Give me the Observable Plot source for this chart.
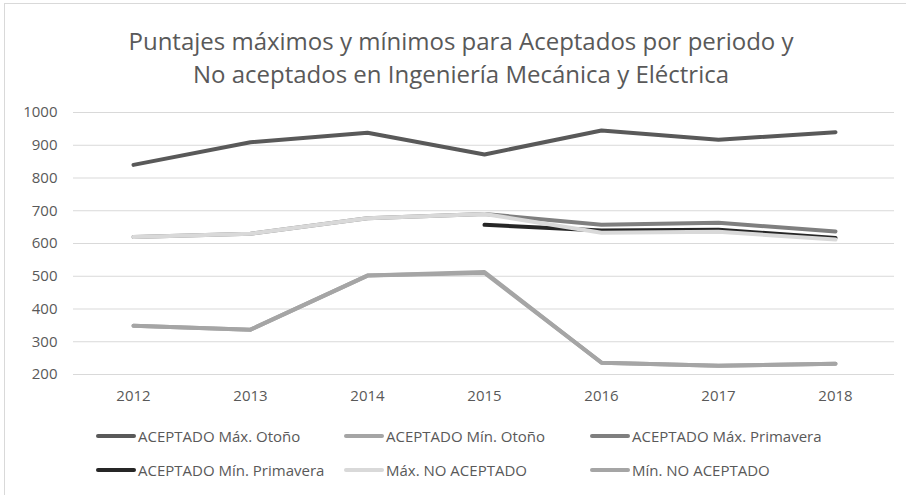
<!DOCTYPE html>
<html>
<head>
<meta charset="utf-8">
<script src="https://cdn.jsdelivr.net/npm/d3@7"></script>
<script src="https://cdn.jsdelivr.net/npm/@observablehq/plot@0.6"></script>
<style>
  html, body { margin: 0; padding: 0; background: #fff; }
  #wrap { position: relative; width: 906px; height: 495px; overflow: hidden; font-family: "Open Sans", sans-serif; color: #595959; }
  #frame { position: absolute; left: 4px; top: 3px; width: 905px; height: 495px; border: 1px solid #d9d9d9; box-sizing: border-box; }
  #title { position: absolute; left: 0; top: 24px; width: 906px; text-align: center; font-size: 24px; line-height: 33px; color: #595959; padding-left: 16px; box-sizing: border-box; }
  #chart { position: absolute; left: 0; top: 100px; }
  #legend { position: absolute; left: 0; top: 426px; width: 906px; font-size: 15px; color: #595959; }
  .item { position: absolute; display: flex; align-items: center; white-space: nowrap; height: 20px; }
  .sw { display: inline-block; width: 40px; height: 4px; border-radius: 2px; margin-right: 2px; }
</style>
</head>
<body>
<div id="wrap">
  <div id="frame"></div>
  <div id="title">Puntajes máximos y mínimos para Aceptados por periodo y<br>No aceptados en Ingeniería Mecánica y Eléctrica</div>
  <div id="chart"></div>
  <div id="legend"></div>
</div>
<script>
const years = ["2012", "2013", "2014", "2015", "2016", "2017", "2018"];
const yTicks = [200, 300, 400, 500, 600, 700, 800, 900, 1000];

const seriesNames = [
  "ACEPTADO Máx. Otoño",
  "ACEPTADO Mín. Otoño",
  "ACEPTADO Máx. Primavera",
  "ACEPTADO Mín. Primavera",
  "Máx. NO ACEPTADO",
  "Mín. NO ACEPTADO"
];
const seriesColors = ["#595959", "#a5a5a5", "#7f7f7f", "#262626", "#d9d9d9", "#a5a5a5"];

const maxOtono      = [840, 909, 938, 872, 945, 917, 940];
const minOtono      = [349, 337, 502, 510, 236, 227, 233];
const maxPrimavera  = [620, 630, 677, 690, 657, 663, 637];
const minPrimavera  = [null, null, null, 657, 640, 642, 617];
const maxNoAceptado = [620, 630, 677, 690, 633, 636, 612];
const minNoAceptado = [349, 337, 502, 513, 236, 227, 233];

const seriesValues = [maxOtono, minOtono, maxPrimavera, minPrimavera, maxNoAceptado, minNoAceptado];

const data = seriesValues.map((vals, i) =>
  years.map((yr, j) => ({year: yr, value: vals[j], series: seriesNames[i]}))
);

const lineMarks = data.map((rows, i) =>
  Plot.line(rows, {
    x: "year", y: "value",
    stroke: seriesColors[i], strokeWidth: 4,
    strokeLinecap: "round", strokeLinejoin: "round",
    defined: d => d.value != null
  })
);

const chart = Plot.plot({
  width: 906,
  height: 310,
  marginLeft: 73,
  marginRight: 12,
  marginTop: 12,
  marginBottom: 36,
  style: {fontFamily: "Open Sans, sans-serif", fontSize: "15px", color: "#595959", background: "transparent"},
  x: {type: "point", domain: years, padding: 0.5, label: null},
  y: {domain: [200, 1000], ticks: yTicks, label: null},
  marks: [
    Plot.gridY(yTicks, {stroke: "#d9d9d9", strokeOpacity: 1, strokeWidth: 1}),
    Plot.axisY(yTicks, {tickSize: 0, tickPadding: 16, label: null, fill: "#595959", tickFormat: d => String(d)}),
    Plot.axisX({tickSize: 0, tickPadding: 16, label: null, fill: "#595959"}),
    ...lineMarks
  ]
});
document.getElementById("chart").appendChild(chart);

const legend = document.getElementById("legend");
const colX = [96, 344, 590];
const rowY = [0, 34];
seriesNames.forEach((name, i) => {
  const el = document.createElement("div");
  el.className = "item";
  el.style.left = colX[i % 3] + "px";
  el.style.top = rowY[Math.floor(i / 3)] + "px";
  const sw = document.createElement("span");
  sw.className = "sw";
  sw.style.background = seriesColors[i];
  el.appendChild(sw);
  el.appendChild(document.createTextNode(name));
  legend.appendChild(el);
});
</script>
</body>
</html>
